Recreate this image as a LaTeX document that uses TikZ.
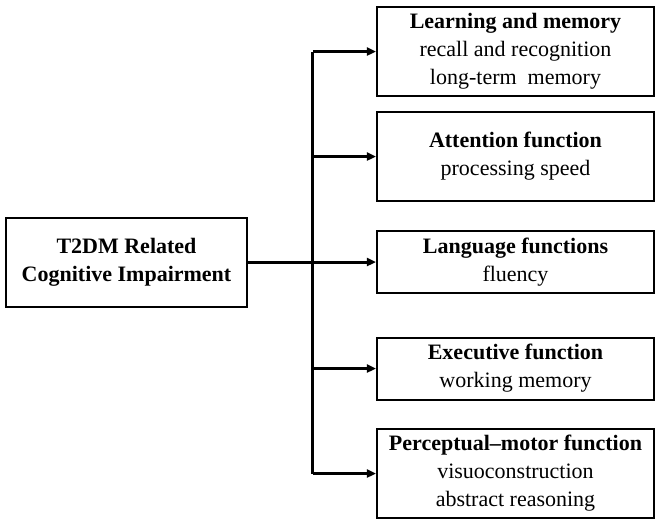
\documentclass[tikz,border=0pt]{standalone}
\usepackage{fontspec}
\setmainfont{Liberation Serif}
\usetikzlibrary{arrows.meta, positioning, calc}

\begin{document}
\begin{tikzpicture}[
  x=0.5pt, y=-0.5pt,
  box/.style={draw, line width=1pt, inner sep=0pt, align=center, font=\fontsize{11}{14}\selectfont},
  mainbox/.style={box, minimum width=120.5pt, minimum height=44.5pt},
  domainbox/.style={box, minimum width=138.5pt, minimum height=44.5pt},
  flatbox/.style={domainbox, minimum height=31pt},
  link/.style={line width=1.5pt},
  arr/.style={link, -{Triangle[length=4.5pt, width=4pt]}},
]
\useasboundingbox (0,0) rectangle (661,526);

% Left: main concept
\node[mainbox] (tcci) at (126.5, 262.5) {\textbf{T2DM Related}\\\textbf{Cognitive Impairment}};

% Right: cognitive domains
\node[domainbox] (learn) at (515.5, 51.5) {\textbf{Learning and memory}\\recall and recognition\\long-term~ memory};
\node[domainbox] (attn) at (515.5, 156.5) {\textbf{Attention function}\\processing speed};
\node[flatbox] (lang) at (515.5, 262) {\textbf{Language functions}\\fluency};
\node[flatbox] (exec) at (515.5, 368.5) {\textbf{Executive function}\\working memory};
\node[domainbox] (percep) at (515.5, 473.5) {\textbf{Perceptual--motor function}\\visuoconstruction\\abstract reasoning};

% Spine
\coordinate (spine) at (313, 262.5);
\draw[link] (tcci) -- (spine);
\draw[link] (spine |- learn.west) -- (spine |- percep.west);

\draw[arr] (spine |- learn.west) -- (learn.west);
\draw[arr] (spine |- attn.west) -- (attn.west);
\draw[arr] (spine |- lang.west) -- (lang.west);
\draw[arr] (spine |- exec.west) -- (exec.west);
\draw[arr] (spine |- percep.west) -- (percep.west);

\end{tikzpicture}
\end{document}
